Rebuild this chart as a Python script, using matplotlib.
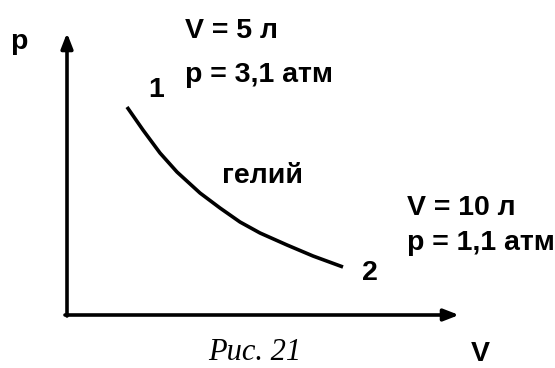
import matplotlib
matplotlib.use("Agg")
import matplotlib.pyplot as plt

# schematic coordinates (x right, y down)
curve_x = [127, 143, 160, 177, 200, 220, 240, 260, 287, 313, 343]
curve_y = [107, 130, 153, 172, 193, 208, 222, 233, 245, 256, 267]

state1 = ["V = 5 л", "p = 3,1 атм"]
state2 = ["V = 10 л", "p = 1,1 атм"]
gas_name = "гелий"
caption = "Рис. 21"

sans = ["Liberation Sans", "DejaVu Sans"]

fig = plt.figure(figsize=(5.55, 3.68), dpi=100)
ax = fig.add_axes([0, 0, 1, 1])
ax.set_xlim(0, 555)
ax.set_ylim(368, 0)
ax.axis("off")

# axes with arrows
ax.annotate("", xy=(67, 33), xytext=(67, 316),
            arrowprops=dict(arrowstyle="-|>,head_length=0.9,head_width=0.35",
                            lw=2.6, color="black", shrinkA=0, shrinkB=0))
ax.annotate("", xy=(459, 315), xytext=(65, 315),
            arrowprops=dict(arrowstyle="-|>,head_length=0.9,head_width=0.35",
                            lw=2.6, color="black", shrinkA=0, shrinkB=0))

ax.plot(curve_x, curve_y, color="black", lw=2.6, solid_capstyle="butt",
        solid_joinstyle="round")

kw = dict(family=sans, fontweight="bold", fontsize=20.5, color="black", va="baseline")
ax.text(10, 49, "p", ha="left", **kw)
ax.text(480, 361, "V", ha="center", **kw)
ax.text(156, 97, "1", ha="center", **kw)
ax.text(370, 280, "2", ha="center", **kw)
ax.text(185, 38, state1[0], ha="left", **kw)
ax.text(185, 82, state1[1], ha="left", **kw)
ax.text(407, 215, state2[0], ha="left", **kw)
ax.text(407, 250, state2[1], ha="left", **kw)
ax.text(222, 183, gas_name, ha="left", **kw)

ax.text(255, 360, caption, ha="center", va="baseline", family="Liberation Serif",
        style="italic", fontsize=22, color="black")

fig.savefig("out.png", dpi=100)
